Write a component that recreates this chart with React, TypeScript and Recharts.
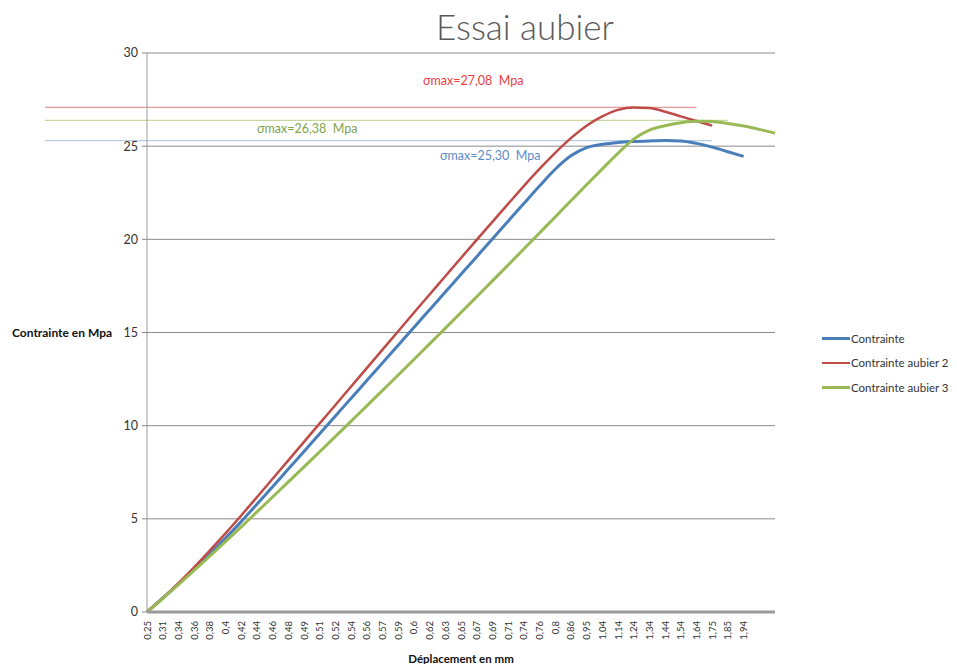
import React from 'react';
import { LineChart, Line, XAxis, YAxis, CartesianGrid, ReferenceLine } from 'recharts';

const xLabels = [
  '0,25', '0,31', '0,34', '0,36', '0,38', '0,4', '0,42', '0,44', '0,46', '0,48',
  '0,49', '0,51', '0,52', '0,54', '0,56', '0,57', '0,59', '0,6', '0,62', '0,63',
  '0,65', '0,67', '0,69', '0,71', '0,74', '0,76', '0,8', '0,86', '0,95', '1,04',
  '1,14', '1,24', '1,34', '1,44', '1,54', '1,64', '1,75', '1,85', '1,94', '', '',
];

const contrainte = [
  0, 0.74, 1.5, 2.3, 3.12, 3.97, 4.85, 5.78, 6.72, 7.67,
  8.62, 9.57, 10.52, 11.47, 12.42, 13.37, 14.32, 15.27, 16.22, 17.17,
  18.12, 19.07, 20.02, 20.97, 21.92, 22.86, 23.76, 24.48, 24.92, 25.1,
  25.2, 25.25, 25.28, 25.3, 25.28, 25.15, 24.95, 24.7, 24.45,
];

const aubier2 = [
  0, 0.75, 1.55, 2.4, 3.3, 4.22, 5.18, 6.16, 7.15, 8.14,
  9.13, 10.12, 11.11, 12.1, 13.09, 14.08, 15.07, 16.06, 17.04, 18.02,
  19.0, 19.97, 20.94, 21.9, 22.86, 23.78, 24.64, 25.43, 26.1, 26.6,
  26.95, 27.08, 27.05, 26.85, 26.6, 26.35, 26.1,
];

const aubier3 = [
  0, 0.72, 1.47, 2.23, 3.0, 3.78, 4.57, 5.37, 6.17, 6.98,
  7.79, 8.6, 9.42, 10.24, 11.06, 11.89, 12.72, 13.55, 14.39, 15.23,
  16.07, 16.92, 17.77, 18.62, 19.48, 20.34, 21.2, 22.07, 22.93, 23.78,
  24.62, 25.38, 25.86, 26.1, 26.26, 26.34, 26.32, 26.22, 26.08, 25.9,
  25.7,
];

const yTicks = [0, 5, 10, 15, 20, 25, 30];
const sigmaValues = [25.3, 27.08, 26.38];
const sigmaLabels = ['σmax=25,30  Mpa', 'σmax=27,08  Mpa', 'σmax=26,38  Mpa'];
const sigmaEnds = [36, 35, 37];

const seriesNames = ['Contrainte', 'Contrainte aubier 2', 'Contrainte aubier 3'];
const seriesColors = ['#4a7ebb', '#be4b48', '#98b954'];
const refColors = ['#b9cde5', '#e39a98', '#c6d9a0'];
const textColors = ['#5b8cc8', '#f03c3c', '#7fa34a'];

const data = xLabels.map((label, i) => ({
  i,
  label,
  c1: i < contrainte.length ? contrainte[i] : null,
  c2: i < aubier2.length ? aubier2[i] : null,
  c3: i < aubier3.length ? aubier3[i] : null,
}));

const FONT = 'Lato, "Open Sans", "DejaVu Sans", sans-serif';

const XTick = (props: any) => {
  const { x, y, payload } = props;
  const text = xLabels[payload.value] ?? '';
  return (
    <g transform={`translate(${x},${y})`}>
      <text
        transform="rotate(-90)"
        textAnchor="end"
        dominantBaseline="central"
        fontSize={9.5}
        fontFamily={FONT}
        fill="#333"
      >
        {text}
      </text>
    </g>
  );
};

const makeRefShape = (color: string) => (p: any) => (
  <line x1={p.x1 - 102} y1={p.y1} x2={p.x2} y2={p.y2} stroke={color} strokeWidth={1.3} />
);

const sigmaTextPos = [
  { left: 440, top: 147 },
  { left: 423, top: 72 },
  { left: 257, top: 120 },
];

export default function App() {
  return (
    <div style={{ position: 'absolute', left: 0, top: 0, width: 957, height: 664, background: '#fff', fontFamily: FONT }}>
      <LineChart
        width={957}
        height={664}
        data={data}
        margin={{ top: 53, right: 182, bottom: 0, left: 0 }}
      >
        <CartesianGrid vertical={false} stroke="#8a8a8a" strokeWidth={1} />
        <XAxis
          dataKey="i"
          type="category"
          interval={0}
          tickLine={false}
          tickSize={0}
          tickMargin={9}
          height={52}
          axisLine={{ stroke: '#9a9a9a', strokeWidth: 3 }}
          tick={<XTick />}
          label={{
            value: 'Déplacement en mm',
            position: 'insideBottom',
            offset: 1,
            style: { fontSize: 11.5, fontWeight: 700, fill: '#111', fontFamily: FONT },
          }}
        />
        <YAxis
          width={147}
          domain={[0, 30]}
          ticks={yTicks}
          interval={0}
          tickSize={5}
          tickMargin={4}
          axisLine={{ stroke: '#9a9a9a' }}
          tickLine={{ stroke: '#8a8a8a' }}
          tick={{ fontSize: 12.5, fill: '#333', fontFamily: FONT }}
          label={{
            value: 'Contrainte en Mpa',
            position: 'insideLeft',
            offset: 12,
            style: { fontSize: 12, fontWeight: 700, fill: '#111', fontFamily: FONT, textAnchor: 'start' },
          }}
        />
        {sigmaValues.map((v, k) => (
          <ReferenceLine
            key={k}
            segment={[{ x: 0, y: v }, { x: sigmaEnds[k], y: v }]}
            stroke={refColors[k]}
            ifOverflow="visible"
            shape={makeRefShape(refColors[k])}
          />
        ))}
        <Line type="monotone" dataKey="c1" name={seriesNames[0]} stroke={seriesColors[0]} strokeWidth={3} dot={false} isAnimationActive={false} />
        <Line type="monotone" dataKey="c2" name={seriesNames[1]} stroke={seriesColors[1]} strokeWidth={2.5} dot={false} isAnimationActive={false} />
        <Line type="monotone" dataKey="c3" name={seriesNames[2]} stroke={seriesColors[2]} strokeWidth={3} dot={false} isAnimationActive={false} />
      </LineChart>

      <div style={{ position: 'absolute', left: 325, top: 4, width: 400, textAlign: 'center', fontSize: 35, fontWeight: 300, color: '#595959', fontFamily: FONT, lineHeight: '44px' }}>
        Essai aubier
      </div>

      {sigmaLabels.map((t, k) => (
        <div key={k} style={{ position: 'absolute', left: sigmaTextPos[k].left, top: sigmaTextPos[k].top, fontSize: 12.5, color: textColors[k], whiteSpace: 'pre', lineHeight: '18px', fontFamily: FONT }}>
          {t}
        </div>
      ))}

      <div style={{ position: 'absolute', left: 822, top: 326, fontFamily: FONT, fontSize: 11.5, color: '#333' }}>
        {seriesNames.map((n, k) => (
          <div key={k} style={{ display: 'flex', alignItems: 'center', height: 24.5 }}>
            <div style={{ width: 28, height: k === 1 ? 2.5 : 3, background: seriesColors[k] }} />
            <span style={{ marginLeft: 1 }}>{n}</span>
          </div>
        ))}
      </div>
    </div>
  );
}
